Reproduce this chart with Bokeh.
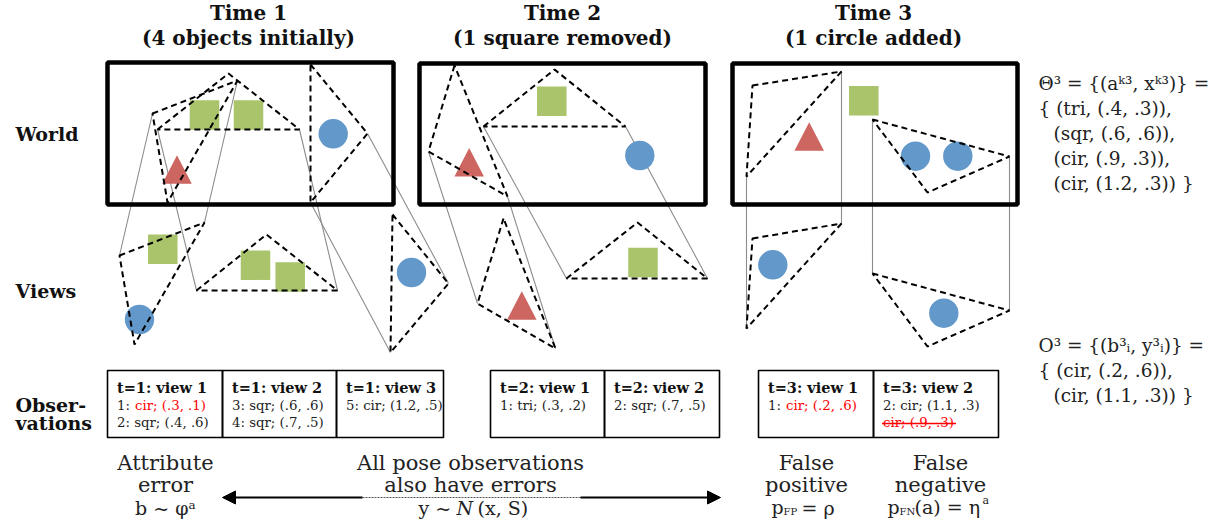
from bokeh.plotting import figure
from bokeh.models import Range1d, Arrow, NormalHead
from bokeh.core.properties import value
from bokeh.embed import file_html
from bokeh.resources import INLINE

# ---------------- data ----------------
# thick "world" frames: left, top, right, bottom
world_left = [107, 419, 732]
world_top = [62, 63, 63]
world_right = [393, 705, 1017]
world_bottom = [204, 204, 204]

# objects
sq_x = [204, 248, 162.3, 255, 289.7, 551.3, 642.5, 863.3]
sq_y = [114.5, 114.5, 248.7, 264.7, 276.5, 100.7, 262, 100.3]
tri_x = [176.5, 468.7, 521.3, 808.7]
tri_y = [169, 161.7, 305, 136]
cir_x = [332.7, 139, 411, 639.3, 915, 957.3, 772.3, 943.3]
cir_y = [133.3, 319, 272, 155, 155.7, 155.7, 264.3, 312.7]
obj_size = 29.5
cir_r = 14.7

# dashed view frustums, world positions and view positions
world_poly_x = [[152, 237, 167], [157, 228, 299], [310, 367, 310],
                [454, 428, 507], [483, 554, 625],
                [752, 841, 746], [872, 1009, 927]]
world_poly_y = [[113, 80, 202], [129, 73, 129], [64, 133, 202],
                [65, 151, 196], [126, 69, 126],
                [85, 71, 176], [119, 156, 192]]
view_poly_x = [[119, 204, 134], [196, 266, 337], [392, 448, 390],
               [503, 477, 555], [566, 637, 707],
               [752, 841, 746], [872, 1009, 927]]
view_poly_y = [[255, 222, 344], [290, 234, 290], [214, 283, 352],
               [218, 303, 348], [278, 222, 278],
               [238, 223, 328], [273, 310, 346]]
# vertex indices joined by thin grey lines
conn_idx = [[0, 1], [0, 2], [1, 2], [1, 2], [0, 2], [1, 2], [0, 1]]

# observation table cells
cell_left = [107, 222, 336, 490, 604, 758, 873]
cell_right = [222, 336, 443, 604, 719, 873, 998]
cell_top = 370
cell_bottom = 437
cell_head = ["t=1: view 1", "t=1: view 2", "t=1: view 3",
             "t=2: view 1", "t=2: view 2", "t=3: view 1", "t=3: view 2"]
cell_line1 = ["1: ", "3: sqr; (.6, .6)", "5: cir; (1.2, .5)",
              "1: tri; (.3, .2)", "2: sqr; (.7, .5)", "1: ", "2: cir; (1.1, .3)"]
cell_line2 = ["2: sqr; (.4, .6)", "4: sqr; (.7, .5)", "", "", "", "", ""]
red_texts = ["cir; (.3, .1)", "cir; (.2, .6)"]
red_cells = [0, 5]
struck_text = "cir; (.9, .3)"
struck_cell = 6

# titles
time_titles = ["Time 1", "Time 2", "Time 3"]
time_subtitles = ["(4 objects initially)", "(1 square removed)", "(1 circle added)"]
time_centers = [248, 562, 873]
row_labels = ["World", "Views", "Obser-", "vations"]
row_label_y = [133, 290, 404, 422]

theta_lines = ["Θ³ = {(aᵏ³, xᵏ³)} =", "{ (tri, (.4, .3)),", "(sqr, (.6, .6)),",
               "(cir, (.9, .3)),", "(cir, (1.2, .3)) }"]
theta_indent = [0, 0, 1, 1, 1]
obs_lines = ["O³ = {(b³ᵢ, y³ᵢ)} =", "{ (cir, (.2, .6)),", "(cir, (1.1, .3)) }"]
obs_indent = [0, 0, 1]

# colours
GREEN = "#a9c46a"
RED = "#cd6560"
BLUE = "#6298ca"
GREY = "#8c8c8c"
SERIF = value("DejaVu Serif")

# ---------------- figure ----------------
p = figure(width=1223, height=521, x_range=Range1d(0, 1223), y_range=Range1d(521, 0),
           output_backend="svg", toolbar_location=None, min_border=0,
           x_axis_location=None, y_axis_location=None)
p.grid.visible = False
p.outline_line_color = None
p.background_fill_color = "white"

# grey connector lines
gx0, gy0, gx1, gy1 = [], [], [], []
for k, idx in enumerate(conn_idx):
    for i in idx:
        gx0.append(world_poly_x[k][i]); gy0.append(world_poly_y[k][i])
        gx1.append(view_poly_x[k][i]); gy1.append(view_poly_y[k][i])
p.segment(gx0, gy0, gx1, gy1, line_color=GREY, line_width=1.1)

# world frames
p.quad(left=world_left, right=world_right, top=world_top, bottom=world_bottom,
       fill_color=None, line_color="black", line_width=4.5)

# objects
p.rect(sq_x, sq_y, width=obj_size, height=obj_size, fill_color=GREEN, line_color=None)
p.circle(cir_x, cir_y, radius=cir_r, fill_color=BLUE, line_color=None)
txs = [[x - obj_size / 2, x, x + obj_size / 2] for x in tri_x]
tys = [[y + 14.3, y - 14.3, y + 14.3] for y in tri_y]
p.patches(txs, tys, fill_color=RED, line_color=None)

# dashed frustums
p.patches(world_poly_x + view_poly_x, world_poly_y + view_poly_y, fill_color=None,
          line_color="black", line_width=2, line_dash="6 4")

# observation cells
p.quad(left=cell_left, right=cell_right, top=[cell_top] * 7, bottom=[cell_bottom] * 7,
       fill_color=None, line_color="black", line_width=1.6)
tx = [l + 9.5 for l in cell_left]
p.text(tx, [387] * 7, text=cell_head, text_font=SERIF, text_font_style="bold",
       text_font_size="14.5px", text_baseline="middle", text_color="#111111")
p.text(tx, [404.5] * 7, text=cell_line1, text_font=SERIF, text_font_size="13.3px",
       text_baseline="middle", text_color="#222222")
p.text(tx, [421.5] * 7, text=cell_line2, text_font=SERIF, text_font_size="13.3px",
       text_baseline="middle", text_color="#222222")
p.text([tx[c] + 18 for c in red_cells], [404.5] * 2, text=red_texts, text_font=SERIF,
       text_font_size="13.3px", text_baseline="middle", text_color="red")
p.text([tx[struck_cell]], [422], text=[struck_text], text_font=SERIF, text_font_size="13.3px",
       text_baseline="middle", text_color="red")
p.segment([tx[struck_cell] - 1], [423], [tx[struck_cell] + 73], [423],
          line_color="red", line_width=1.6)

# titles
p.text(time_centers, [12] * 3, text=time_titles, text_font=SERIF, text_font_style="bold",
       text_font_size="20px", text_align="center", text_baseline="middle", text_color="#111111")
p.text(time_centers, [37] * 3, text=time_subtitles, text_font=SERIF, text_font_style="bold",
       text_font_size="20px", text_align="center", text_baseline="middle", text_color="#111111")
p.text([15] * 4, row_label_y, text=row_labels, text_font=SERIF, text_font_style="bold",
       text_font_size="19px", text_baseline="middle", text_color="#111111")

# right-hand formulas
p.text([1038 + 15 * i for i in theta_indent], [83 + 25 * k for k in range(5)], text=theta_lines,
       text_font=SERIF, text_font_size="18.5px", text_baseline="middle", text_color="#222222")
p.text([1038 + 15 * i for i in obs_indent], [345 + 25 * k for k in range(3)], text=obs_lines,
       text_font=SERIF, text_font_size="18.5px", text_baseline="middle", text_color="#222222")

# bottom annotations
bt_x = [165, 470, 806, 940]
p.text(bt_x, [462] * 4, text=["Attribute", "All pose observations", "False", "False"],
       text_font=SERIF, text_font_size="21px", text_align="center", text_baseline="middle",
       text_color="#222222")
p.text(bt_x, [484] * 4, text=["error", "also have errors", "positive", "negative"],
       text_font=SERIF, text_font_size="21px", text_align="center", text_baseline="middle",
       text_color="#222222")
p.text([165], [507], text=["b ~ φᵃ"], text_font=SERIF, text_font_size="19px",
       text_align="center", text_baseline="middle", text_color="#222222")
p.text([418, 456, 477], [507] * 3, text=["y ~", "N", "(x, S)"], text_font=SERIF,
       text_font_size="19px", text_font_style=["normal", "italic", "normal"],
       text_baseline="middle", text_color="#222222")
p.text([771, 887, 914], [506] * 3, text=["p", "p", "(a) = η"], text_font=SERIF,
       text_font_size="19px", text_baseline="middle", text_color="#222222")
p.text([783, 899], [511] * 2, text=["FP", "FN"], text_font=SERIF, text_font_size="10px",
       text_baseline="middle", text_color="#222222")
p.text([801], [507], text=["= ρ"], text_font=SERIF, text_font_size="19px",
       text_baseline="middle", text_color="#222222")
p.text([982], [500], text=["a"], text_font=SERIF, text_font_size="11px",
       text_baseline="middle", text_color="#222222")

# double arrow with a dotted middle
arrow_x = [222, 362, 580, 720]
arrow_y = 497
p.add_layout(Arrow(start=NormalHead(size=13, fill_color="black", line_color="black"), end=None,
                   x_start=arrow_x[0], y_start=arrow_y, x_end=arrow_x[1], y_end=arrow_y,
                   line_width=2, line_color="black"))
p.add_layout(Arrow(end=NormalHead(size=13, fill_color="black", line_color="black"), start=None,
                   x_start=arrow_x[2], y_start=arrow_y, x_end=arrow_x[3], y_end=arrow_y,
                   line_width=2, line_color="black"))
p.segment([arrow_x[1]], [arrow_y], [arrow_x[2]], [arrow_y], line_color="#555555",
          line_width=1, line_dash="2 1")

open("out.html", "w").write(file_html(p, INLINE))
